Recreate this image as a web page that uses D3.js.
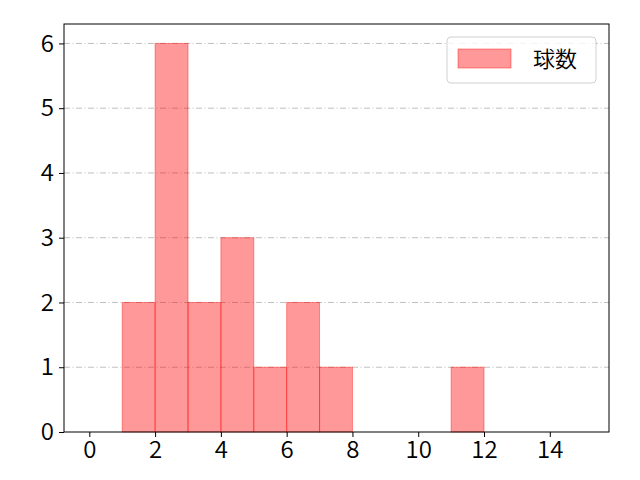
<!DOCTYPE html>
<html>
<head>
<meta charset="utf-8">
<script src="https://cdn.jsdelivr.net/npm/d3@7"></script>
<style>
  body { margin: 0; background: #fff; }
  text { font-family: "Noto Sans CJK JP", "DejaVu Sans", sans-serif; font-weight: 350; }
</style>
</head>
<body>
<svg id="chart" width="640" height="480"></svg>
<script>
// histogram bins (left edge, right edge) and counts
var binStarts = [1, 2, 3, 4, 5, 6, 7, 11];
var binEnds = [2, 3, 4, 5, 6, 7, 8, 12];
var counts = [2, 6, 2, 3, 1, 2, 1, 1];
var xTicks = [0, 2, 4, 6, 8, 10, 12, 14];
var yTicks = [0, 1, 2, 3, 4, 5, 6];
var seriesName = '球数';

var svg = d3.select('#chart'),
    WIDTH = 640,
    HEIGHT = 480,
    MARGINS = {top: 24, right: 31, bottom: 48, left: 64};

var xScale = d3.scaleLinear()
    .domain([-0.77, 15.8])
    .range([MARGINS.left, WIDTH - MARGINS.right]);
var yScale = d3.scaleLinear()
    .domain([0, 6.3])
    .range([HEIGHT - MARGINS.bottom, MARGINS.top]);

var bins = counts.map(function (c, i) {
  return {x0: binStarts[i], x1: binEnds[i], n: c};
});

// grid (dash-dot)
svg.append('g')
    .selectAll('line')
    .data(yTicks.filter(function (d) { return d > 0; }))
    .enter().append('line')
    .attr('x1', MARGINS.left)
    .attr('x2', WIDTH - MARGINS.right)
    .attr('y1', function (d) { return yScale(d); })
    .attr('y2', function (d) { return yScale(d); })
    .attr('stroke', '#b0b0b0')
    .attr('stroke-width', 0.8)
    .attr('stroke-dasharray', '6,2.5,1,2.5');

// bars
svg.append('g')
    .selectAll('rect')
    .data(bins)
    .enter().append('rect')
    .attr('x', function (d) { return xScale(d.x0); })
    .attr('width', function (d) { return xScale(d.x1) - xScale(d.x0); })
    .attr('y', function (d) { return yScale(d.n); })
    .attr('height', function (d) { return yScale(0) - yScale(d.n); })
    .attr('fill', 'rgba(255,0,0,0.4)')
    .attr('stroke', 'rgba(255,0,0,0.4)')
    .attr('stroke-width', 1);

// frame
svg.append('rect')
    .attr('x', MARGINS.left)
    .attr('y', MARGINS.top)
    .attr('width', WIDTH - MARGINS.left - MARGINS.right)
    .attr('height', HEIGHT - MARGINS.top - MARGINS.bottom)
    .attr('fill', 'none')
    .attr('stroke', '#000')
    .attr('stroke-width', 1);

var xAxis = d3.axisBottom(xScale).tickValues(xTicks).tickFormat(d3.format('d'))
    .tickSize(5).tickPadding(4);
var yAxis = d3.axisLeft(yScale).tickValues(yTicks).tickFormat(d3.format('d'))
    .tickSize(5).tickPadding(5);

svg.append('g')
    .attr('transform', 'translate(0,' + (HEIGHT - MARGINS.bottom) + ')')
    .call(xAxis)
    .call(function (g) { g.select('.domain').remove(); })
    .selectAll('text')
    .attr('font-size', 24)
    .attr('fill', '#000')
    .attr('font-family', '"Noto Sans CJK JP", sans-serif');

svg.append('g')
    .attr('transform', 'translate(' + MARGINS.left + ',0)')
    .call(yAxis)
    .call(function (g) { g.select('.domain').remove(); })
    .selectAll('text')
    .attr('font-size', 24)
    .attr('fill', '#000')
    .attr('font-family', '"Noto Sans CJK JP", sans-serif');

// legend
var legend = svg.append('g').attr('transform', 'translate(447,37)');
legend.append('rect')
    .attr('width', 149).attr('height', 46)
    .attr('rx', 4)
    .attr('fill', 'rgba(255,255,255,0.8)')
    .attr('stroke', '#d0d0d0');
legend.append('rect')
    .attr('x', 11).attr('y', 12)
    .attr('width', 53).attr('height', 19)
    .attr('fill', 'rgba(255,0,0,0.4)')
    .attr('stroke', 'rgba(255,0,0,0.4)');
legend.append('text')
    .attr('x', 86).attr('y', 22)
    .attr('dy', '0.35em')
    .attr('font-size', 22)
    .text(seriesName);
</script>
</body>
</html>
